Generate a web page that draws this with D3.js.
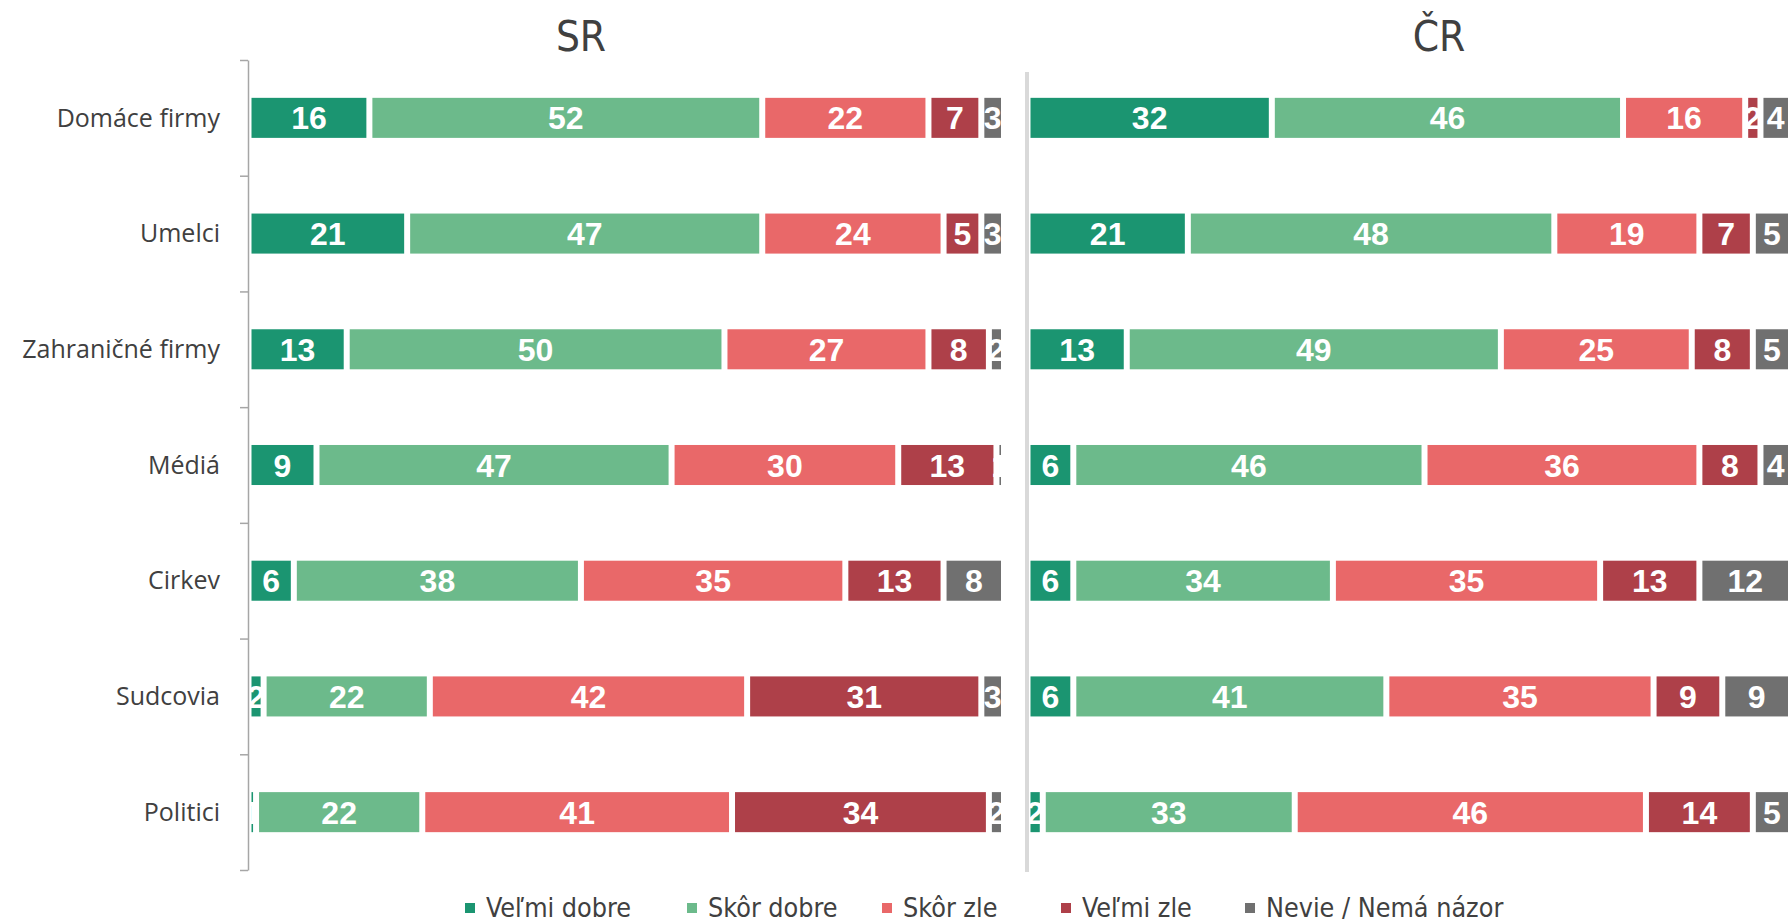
<!DOCTYPE html>
<html>
<head>
<meta charset="utf-8">
<script src="https://cdn.jsdelivr.net/npm/d3@7"></script>
<style>
  html, body { margin: 0; padding: 0; background: #ffffff; }
  svg { display: block; }
</style>
</head>
<body>
<svg id="chart" width="1788" height="924"></svg>
<script>
// ---------- DATA ----------
const categories = ["Domáce firmy", "Umelci", "Zahraničné firmy", "Médiá", "Cirkev", "Sudcovia", "Politici"];
const seriesNames = ["Veľmi dobre", "Skôr dobre", "Skôr zle", "Veľmi zle", "Nevie / Nemá názor"];
const panelTitles = ["SR", "ČR"];

const srVelmiDobre = [16, 21, 13, 9, 6, 2, 1];
const srSkorDobre  = [52, 47, 50, 47, 38, 22, 22];
const srSkorZle    = [22, 24, 27, 30, 35, 42, 41];
const srVelmiZle   = [7, 5, 8, 13, 13, 31, 34];
const srNevie      = [3, 3, 2, 1, 8, 3, 2];

const crVelmiDobre = [32, 21, 13, 6, 6, 6, 2];
const crSkorDobre  = [46, 48, 49, 46, 34, 41, 33];
const crSkorZle    = [16, 19, 25, 36, 35, 35, 46];
const crVelmiZle   = [2, 7, 8, 8, 13, 9, 14];
const crNevie      = [4, 5, 5, 4, 12, 9, 5];

// ---------- STYLE ----------
const colors = ["#1b9571", "#6cba8b", "#e96869", "#ae4049", "#707070"];
const textColor = "#404040";
const titleFont = "'Liberation Sans Narrow', 'DejaVu Sans Condensed', sans-serif";
const labelFont = "'Open Sans', 'DejaVu Sans', sans-serif";
const valueFont = "'Liberation Sans', Arial, sans-serif";

function buildRows(arrs) {
  return categories.map((c, i) => {
    const row = { category: c };
    seriesNames.forEach((s, j) => { row[s] = arrs[j][i]; });
    return row;
  });
}
const panels = [
  { title: panelTitles[0], rows: buildRows([srVelmiDobre, srSkorDobre, srSkorZle, srVelmiZle, srNevie]), range: [248.5, 1004], titleX: 581 },
  { title: panelTitles[1], rows: buildRows([crVelmiDobre, crSkorDobre, crSkorZle, crVelmiZle, crNevie]), range: [1027.5, 1791], titleX: 1439 }
];

const svg = d3.select("#chart");
const color = d3.scaleOrdinal().domain(seriesNames).range(colors);

const y = d3.scaleBand().domain(categories).range([60, 870]).paddingInner(0.654).paddingOuter(0.327);
const stack = d3.stack().keys(seriesNames);
const gap = 3;

panels.forEach(p => {
  const x = d3.scaleLinear().domain([0, 100]).range(p.range);
  const stacked = stack(p.rows);
  const g = svg.append("g");

  const layers = g.selectAll("g.layer").data(stacked).join("g")
    .attr("class", "layer")
    .attr("fill", d => color(d.key));

  layers.selectAll("rect").data(d => d).join("rect")
    .attr("x", d => x(d[0]) + gap)
    .attr("y", d => y(d.data.category))
    .attr("width", d => Math.max(0, x(d[1]) - x(d[0]) - 2 * gap))
    .attr("height", y.bandwidth());

  layers.selectAll("text").data(d => d).join("text")
    .attr("x", d => (x(d[0]) + x(d[1])) / 2)
    .attr("y", d => y(d.data.category) + y.bandwidth() / 2)
    .attr("dy", "0.36em")
    .attr("text-anchor", "middle")
    .attr("fill", "#ffffff")
    .attr("font-family", valueFont)
    .attr("font-weight", "bold")
    .attr("font-size", 32)
    .text(d => d[1] - d[0]);

  svg.append("text")
    .attr("x", p.titleX)
    .attr("y", 51)
    .attr("text-anchor", "middle")
    .attr("fill", textColor)
    .attr("font-family", titleFont)
    .attr("font-size", 42)
    .text(p.title);
});

// SR axis with tick marks between categories
const yEdges = d3.scaleLinear().domain([0, categories.length]).range([60, 870]);
const axisG = svg.append("g").attr("transform", "translate(248,0)")
  .call(d3.axisLeft(yEdges).tickValues(d3.range(categories.length + 1)).tickFormat("").tickSizeInner(8).tickSizeOuter(0));
axisG.selectAll("path, line").attr("stroke", "#a6a6a6").attr("stroke-width", 1.5);

// Category labels
svg.append("g").selectAll("text").data(categories).join("text")
  .attr("x", 220)
  .attr("y", d => y(d) + y.bandwidth() / 2)
  .attr("dy", "0.35em")
  .attr("text-anchor", "end")
  .attr("fill", textColor)
  .attr("font-family", labelFont)
  .attr("font-size", 25)
  .text(d => d);

// CR divider axis line
svg.append("line")
  .attr("x1", 1027).attr("x2", 1027)
  .attr("y1", 72).attr("y2", 872)
  .attr("stroke", "#d9d9d9").attr("stroke-width", 4);

// Legend
const legendX = [470, 692, 887, 1066, 1250];
const legendY = 908;
const lg = svg.append("g").selectAll("g").data(seriesNames).join("g")
  .attr("transform", (d, i) => `translate(${legendX[i]},${legendY})`);
lg.append("rect").attr("x", -5).attr("y", -5).attr("width", 10).attr("height", 10).attr("fill", d => color(d));
lg.append("text")
  .attr("x", 16).attr("dy", "0.35em")
  .attr("fill", textColor)
  .attr("font-family", titleFont)
  .attr("font-size", 26.7)
  .text(d => d);
</script>
</body>
</html>
